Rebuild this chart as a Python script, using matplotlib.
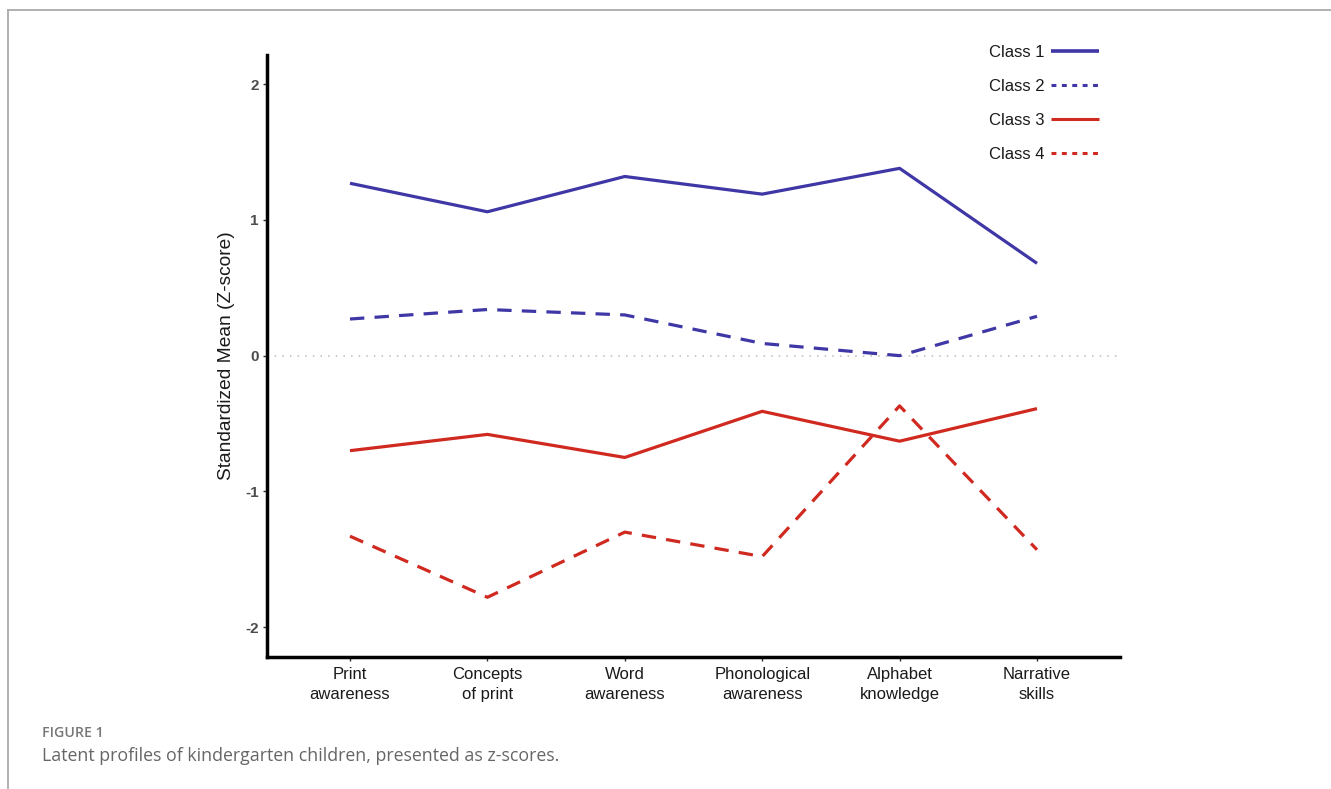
import matplotlib
matplotlib.use("Agg")
import matplotlib.pyplot as plt
from matplotlib.lines import Line2D

categories = ["Print\nawareness", "Concepts\nof print", "Word\nawareness",
              "Phonological\nawareness", "Alphabet\nknowledge", "Narrative\nskills"]
class1 = [1.27, 1.06, 1.32, 1.19, 1.38, 0.68]
class2 = [0.27, 0.34, 0.30, 0.09, 0.00, 0.29]
class3 = [-0.70, -0.58, -0.75, -0.41, -0.63, -0.39]
class4 = [-1.33, -1.78, -1.30, -1.48, -0.37, -1.43]
series_labels = ["Class 1", "Class 2", "Class 3", "Class 4"]
yticks = [-2, -1, 0, 1, 2]

blue = "#3F37A6"
red = "#D0291F"

plt.rcParams['font.family'] = ['Liberation Sans', 'DejaVu Sans']

fig = plt.figure(figsize=(13.31, 7.89), dpi=100)
ax = fig.add_axes([267/1331, 132/789, (1120-267)/1331, (657-55)/789])

x = list(range(1, len(categories) + 1))
ax.axhline(0, color="#bbbbbb", lw=1.1, ls=(0, (1, 4)), zorder=1)
lw = 2.3
ax.plot(x, class1, color=blue, lw=lw, solid_capstyle='butt')
ax.plot(x, class2, color=blue, lw=lw, dashes=(4.5, 3.2))
ax.plot(x, class3, color=red, lw=lw, solid_capstyle='butt')
ax.plot(x, class4, color=red, lw=lw, dashes=(4.5, 3.2))

ax.set_xlim(0.396, 6.604)
ax.set_ylim(-2.22, 2.215)
ax.set_xticks(x)
ax.set_xticklabels(categories, fontsize=12, color="#1a1a1a", linespacing=1.4)
ax.set_yticks(yticks)
ax.set_yticklabels([str(v) for v in yticks], fontsize=11, color="#4d4d4d", fontweight="bold")
ax.tick_params(axis='both', length=3, width=1, color="#333333")
ax.tick_params(axis='x', pad=4)
ax.tick_params(axis='y', pad=3)
ax.set_ylabel("Standardized Mean (Z-score)", fontsize=13.8, color="#1a1a1a", labelpad=7)

for s in ["top", "right"]:
    ax.spines[s].set_visible(False)
for s in ["left", "bottom"]:
    ax.spines[s].set_linewidth(2.5)
    ax.spines[s].set_color("black")
    ax.spines[s].set_capstyle('projecting')

handles = [
    Line2D([], [], color=blue, lw=2.6, solid_capstyle='butt'),
    Line2D([], [], color=blue, lw=2.2, dashes=(1.6, 1.8)),
    Line2D([], [], color=red, lw=2.2, solid_capstyle='butt'),
    Line2D([], [], color=red, lw=2.2, dashes=(1.6, 1.8)),
]
leg = ax.legend(handles, series_labels, loc="upper right",
                bbox_to_anchor=(1099/1331, 1 - 45/789),
                bbox_transform=fig.transFigure, frameon=False, markerfirst=False,
                fontsize=12, handlelength=2.9, handletextpad=0.35, labelspacing=1.14,
                borderpad=0, borderaxespad=0)
for t in leg.get_texts():
    t.set_color("#1a1a1a")

# page frame
fig.add_artist(Line2D([8/1331, 1], [1 - 10/789, 1 - 10/789], transform=fig.transFigure,
                      color="#aaaaaa", lw=1.3))
fig.add_artist(Line2D([8/1331, 8/1331], [0, 1 - 10/789], transform=fig.transFigure,
                      color="#aaaaaa", lw=1.3))

fig.text(42/1331, 1 - 733/789, "FIGURE 1", fontsize=10.2, color="#777777",
         family=["Open Sans", "DejaVu Sans"], fontweight="semibold", va="center")
fig.text(42/1331, 1 - 756/789, "Latent profiles of kindergarten children, presented as z-scores.",
         fontsize=12.8, color="#666666", family=["Open Sans", "DejaVu Sans"], va="center")

fig.savefig("out.png", dpi=100)
